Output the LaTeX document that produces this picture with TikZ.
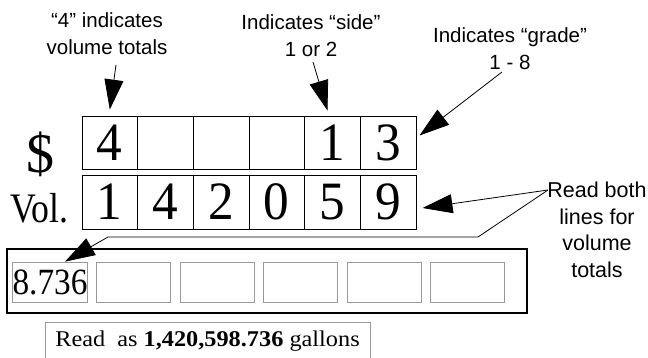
\documentclass[tikz,border=0pt]{standalone}
\usepackage{fontspec}
\setmainfont{Liberation Serif}
\setsansfont{Liberation Sans}
\usetikzlibrary{arrows.meta}
\newcommand{\cellnum}[1]{\raisebox{-3pt}{\scalebox{0.95}[1]{#1}}}
\tikzset{>={Triangle[length=30pt,width=19pt]},
  cell/.style={draw,line width=0.9pt,minimum width=55.7pt,minimum height=53pt,inner sep=0pt,font=\fontsize{54}{54}\selectfont},
  reg/.style={draw=gray!80,line width=0.7pt,minimum width=74pt,minimum height=40pt,inner sep=0pt},
  note/.style={align=center,inner sep=0pt,font=\sffamily\fontsize{20.5}{27}\selectfont},
  lead/.style={line width=0.8pt}}

\begin{document}
\begin{tikzpicture}[x=1pt,y=-1pt]
\useasboundingbox (0,0) rectangle (648,358);
\node (dollar) at (40,154) {\fontsize{56}{56}\selectfont\$};
\node (vol) at (39,208) {\scalebox{0.85}[1]{\fontsize{42}{42}\selectfont Vol.}};
\node[cell] (t1) at (109.8,142.5) {\cellnum{4}};
\node[cell] (t2) at (165.5,142.5) {};
\node[cell] (t3) at (221.2,142.5) {};
\node[cell] (t4) at (276.8,142.5) {};
\node[cell] (t5) at (332.5,142.5) {\cellnum{1}};
\node[cell] (t6) at (388.2,142.5) {\cellnum{3}};
\node[cell,minimum height=54pt] (v1) at (109.8,202) {\cellnum{1}};
\node[cell,minimum height=54pt] (v2) at (165.5,202) {\cellnum{4}};
\node[cell,minimum height=54pt] (v3) at (221.2,202) {\cellnum{2}};
\node[cell,minimum height=54pt] (v4) at (276.8,202) {\cellnum{0}};
\node[cell,minimum height=54pt] (v5) at (332.5,202) {\cellnum{5}};
\node[cell,minimum height=54pt] (v6) at (388.2,202) {\cellnum{9}};
\node[draw,line width=2.5pt,minimum width=520pt,minimum height=64pt] (frame) at (267,281) {};
\node[reg] (b1) at (50,282) {\scalebox{0.9}[1]{\fontsize{37}{37}\selectfont 8.736}};
\node[reg] (b2) at (133.5,282) {};
\node[reg] (b3) at (217,282) {};
\node[reg] (b4) at (300.5,282) {};
\node[reg] (b5) at (384,282) {};
\node[reg] (b6) at (467.5,282) {};
\node[draw=gray!80,line width=0.7pt,minimum width=325pt,minimum height=38pt,inner sep=0pt] (total) at (207.5,341)
  {\scalebox{1.08}[1]{\fontsize{22.5}{22.5}\selectfont Read\ \ as \textbf{1,420,598.736} gallons}};
\node[note] (lblvol) at (107,33.5) {“4” indicates\\volume totals};
\node[note] (lblside) at (311,36) {Indicates “side”\\1 or 2};
\node[note] (lblgrade) at (510,48.5) {Indicates “grade”\\1 - 8};
\node[note,font=\sffamily\fontsize{21.5}{26.5}\selectfont] (lblread) at (597,230) {Read both\\lines for\\volume\\totals};
\coordinate (a1) at (116,65);
\coordinate (a2) at (313,62);
\coordinate (a3) at (502,72);
\coordinate (rb) at (548,190);
\coordinate (k1) at (478,237);
\coordinate (k2) at (108,237);
\draw[lead,->] (a1) -- ([yshift=6pt]t1.north);
\draw[lead,->] (a2) -- ([xshift=-5pt,yshift=5pt]t5.north);
\draw[lead,->] (a3) -- ([xshift=3pt,yshift=7pt]t6.east);
\draw[lead,->] (rb) -- ([xshift=6pt,yshift=-6pt]v6.east);
\draw[lead,->] (rb) -- (k1) -- (k2) -- ([xshift=15pt]b1.north);
\end{tikzpicture}
\end{document}
